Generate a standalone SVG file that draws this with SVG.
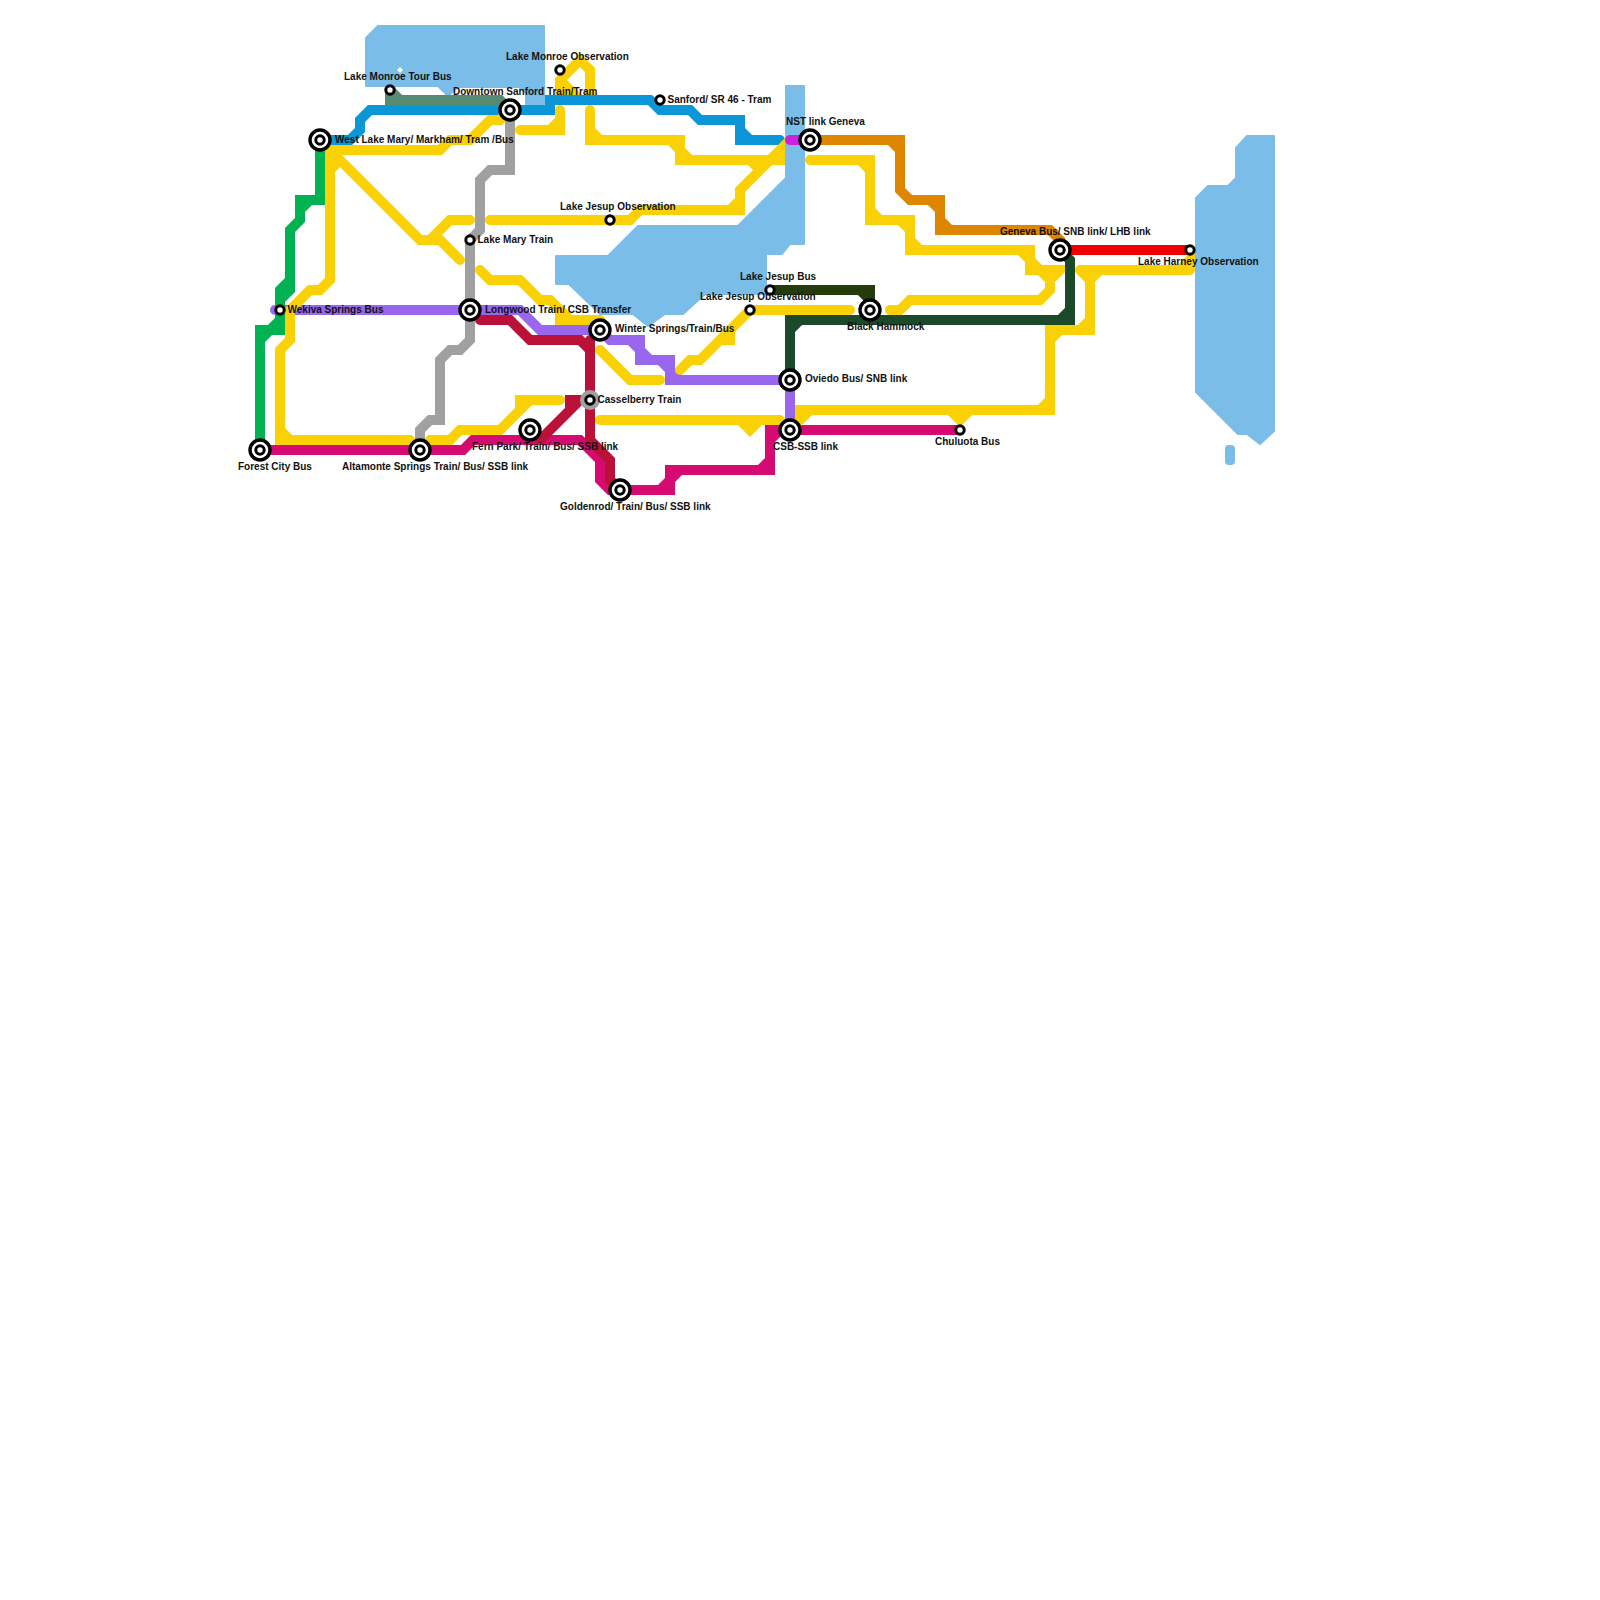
<svg xmlns="http://www.w3.org/2000/svg" width="1600" height="1600" viewBox="0 0 1600 1600">
<style>
text{font-family:"Liberation Sans",Arial,sans-serif;font-size:10px;font-weight:700;fill:#111}
.w{fill:#7bbde9;stroke:#7bbde9;stroke-width:2;stroke-linejoin:round}
.l{fill:none;stroke-width:10;stroke-linecap:round;stroke-linejoin:miter;stroke-miterlimit:4}
.y{stroke:#fad105}.p{stroke:#9966ee}.b{stroke:#0b96d8}.s{stroke:#558b70}.g{stroke:#a0a0a0}.c{stroke:#bb1138}.m{stroke:#d60b72}.o{stroke:#df8600}.r{stroke:#ee0000}.v{stroke:#cc22dd}.n{stroke:#00b251}.d{stroke:#1b4a2a}.e{stroke:#243b0b}
.so{fill:#fff;stroke:#000;stroke-width:3.4}
.ri{fill:#fff;stroke:#000;stroke-width:3}
.si{fill:#fff;stroke:#000;stroke-width:3}
</style>
<g id="water">
<path class="w" d="M366 38L378 26H544V104H526V93L519 87H497H480H458L448 96L438 86H366Z"/>
<path class="w" d="M786 86H804V244H790L782 254H766V294H705L683 314H665L648 326L633 314H600L569 284H556V256H608L638 226H738L786 178Z"/>
<path class="w" d="M1247 136H1274V431L1260 444L1247 434H1238L1196 392V198L1208 186H1228L1236 178V148Z"/>
<rect x="1225" y="445" width="10" height="20" rx="4" fill="#7bbde9"/>
<path d="M400 67l3 3l-3 3l-3-3z" fill="#fff"/>
</g>
<g id="connectors">
<path class="l p" d="M275 310H520L540 330H600L610 340H640V360H670V380H790V430M630 340L650 360M660 360L680 380"/>
<path class="l y" d="M560 100V80L580 60L590 70V100M560 80L580 100"/>
<path class="l b" d="M320 140H350L360 130V120L370 110H550V100H650L660 110H690L700 120H740V140H780M740 130L750 140"/>
<path class="l s" d="M390 90L400 100H500L510 110M390 90V100H400"/>
<path class="l g" d="M510 110V170H490L480 180V230L470 240V340L460 350H450L440 360V420H430L420 430V450"/>
<path class="l m" d="M260 450H463L473 440H580L600 460V480L610 490H670V470H770V430H960M530 430L540 440M660 490L670 480M670 480L680 470M760 470L770 460M770 440L780 430"/>
<path class="l c" d="M480 320H510L530 340H580L590 350V440L610 460V480L620 490M590 340V350M590 400H570V410L540 440M580 400L540 440"/>
<path class="l o" d="M810 140H900V190L910 200H940V230H1050L1060 240V250M890 140L900 150M930 200L940 210M940 220L950 230"/>
<path class="l r" d="M1060 250H1190"/>
<path class="l v" d="M790 140H810"/>
<path class="l e" d="M770 290H870V310M860 290L870 300"/>
<path class="l y" d="M510 110L500 120H490L470 140H450L440 150H330V280L320 290H310L290 310V340L280 350V440H410M280 430L290 440M330 150L420 240H440L460 260M430 240L450 220H470M330 170L340 160"/>
<path class="l y" d="M520 130H560V110M550 130L560 120"/>
<path class="l y" d="M590 110V140H680V160H780V150L740 190V210H640L630 220H490M590 130L600 140M670 140L680 150M680 150L690 160M750 160L760 170M730 210L740 200"/>
<path class="l y" d="M810 160H870V220H910V250H1030V270H1060L1050 280V290L1040 300H910L900 310H890M860 160L870 170M870 210L880 220M900 220L910 230M910 240L920 250M1020 250L1030 260M1030 260L1040 270M1040 270L1050 280"/>
<path class="l y" d="M850 310H750L730 330V340H720L700 360H690L680 370M730 330L720 340"/>
<path class="l y" d="M600 350L630 380H660"/>
<path class="l y" d="M600 420H780M740 420L750 430L760 420"/>
<path class="l y" d="M560 400H520V410L500 430H460L450 440H430M520 410L530 400"/>
<path class="l y" d="M480 270L490 280H520L540 300H550L560 310V320H600M560 310L570 320"/>
<path class="l y" d="M1080 270H1190M1180 270L1190 260V270M1080 270L1090 280V330H1050V410H800V420L790 430M810 410L790 430M950 410L960 420L970 410M1090 280L1100 270M1090 320L1080 330M1060 330L1050 340M1050 400L1040 410"/>
<path class="l n" d="M260 450V330H280V290L290 280V230L300 220V200H320V140M260 340L270 330M290 280V290L280 300M300 210L310 200M270 330L280 320"/>
<path class="l d" d="M790 380V320H1070V260L1060 250M790 330L800 320M1060 320L1070 310"/>
</g>
<g id="n1"><circle cx="320" cy="140" r="10" class="so"/><circle cx="320" cy="140" r="4.2" class="ri"/><text x="335" y="143">West Lake Mary/ Markham/ Tram /Bus</text></g>
<g id="n2"><circle cx="510" cy="110" r="10" class="so"/><circle cx="510" cy="110" r="4.2" class="ri"/><text x="453" y="95">Downtown Sanford Train/Tram</text></g>
<g id="n3"><circle cx="470" cy="310" r="10" class="so"/><circle cx="470" cy="310" r="4.2" class="ri"/><text x="485" y="313">Longwood Train/ CSB Transfer</text></g>
<g id="n4"><circle cx="600" cy="330" r="10" class="so"/><circle cx="600" cy="330" r="4.2" class="ri"/><text x="615" y="332">Winter Springs/Train/Bus</text></g>
<g id="n5"><circle cx="810" cy="140" r="10" class="so"/><circle cx="810" cy="140" r="4.2" class="ri"/><text x="786" y="125">NST link Geneva</text></g>
<g id="n6"><circle cx="870" cy="310" r="10" class="so"/><circle cx="870" cy="310" r="4.2" class="ri"/><text x="847" y="330">Black Hammock</text></g>
<g id="n7"><circle cx="1060" cy="250" r="10" class="so"/><circle cx="1060" cy="250" r="4.2" class="ri"/><text x="1000" y="235">Geneva Bus/ SNB link/ LHB link</text></g>
<g id="n8"><circle cx="790" cy="380" r="10" class="so"/><circle cx="790" cy="380" r="4.2" class="ri"/><text x="805" y="382">Oviedo Bus/ SNB link</text></g>
<g id="n9"><circle cx="790" cy="430" r="10" class="so"/><circle cx="790" cy="430" r="4.2" class="ri"/><text x="773" y="450">CSB-SSB link</text></g>
<g id="n10"><circle cx="530" cy="430" r="10" class="so"/><circle cx="530" cy="430" r="4.2" class="ri"/><text x="472" y="450">Fern Park/ Train/ Bus/ SSB link</text></g>
<g id="n11"><circle cx="260" cy="450" r="10" class="so"/><circle cx="260" cy="450" r="4.2" class="ri"/><text x="238" y="470">Forest City Bus</text></g>
<g id="n12"><circle cx="420" cy="450" r="10" class="so"/><circle cx="420" cy="450" r="4.2" class="ri"/><text x="342" y="470">Altamonte Springs Train/ Bus/ SSB link</text></g>
<g id="n13"><circle cx="620" cy="490" r="10" class="so"/><circle cx="620" cy="490" r="4.2" class="ri"/><text x="560" y="510">Goldenrod/ Train/ Bus/ SSB link</text></g>
<g id="n14"><circle cx="390" cy="90" r="4.2" class="si"/><text x="344" y="80">Lake Monroe Tour Bus</text></g>
<g id="n15"><circle cx="560" cy="70" r="4.2" class="si"/><text x="506" y="60">Lake Monroe Observation</text></g>
<g id="n16"><circle cx="660" cy="100" r="4.2" class="si"/><text x="667.5" y="103">Sanford/ SR 46 - Tram</text></g>
<g id="n17"><circle cx="610" cy="220" r="4.2" class="si"/><text x="560" y="210">Lake Jesup Observation</text></g>
<g id="n18"><circle cx="470" cy="240" r="4.2" class="si"/><text x="477.5" y="243">Lake Mary Train</text></g>
<g id="n19"><circle cx="770" cy="290" r="4.2" class="si"/><text x="740" y="280">Lake Jesup Bus</text></g>
<g id="n20"><circle cx="750" cy="310" r="4.2" class="si"/><text x="700" y="300">Lake Jesup Observation</text></g>
<g id="n21"><circle cx="280" cy="310" r="4.2" class="si"/><text x="287.5" y="313">Wekiva Springs Bus</text></g>
<g id="n22"><circle cx="590" cy="400" r="10" fill="#a0a0a0"/><circle cx="590" cy="400" r="4.2" class="si"/><text x="597.5" y="403">Casselberry Train</text></g>
<g id="n23"><circle cx="960" cy="430" r="4.2" class="si"/><text x="935" y="445">Chuluota Bus</text></g>
<g id="n24"><circle cx="1190" cy="250" r="4.2" class="si"/><text x="1138" y="265">Lake Harney Observation</text></g>
</svg>
